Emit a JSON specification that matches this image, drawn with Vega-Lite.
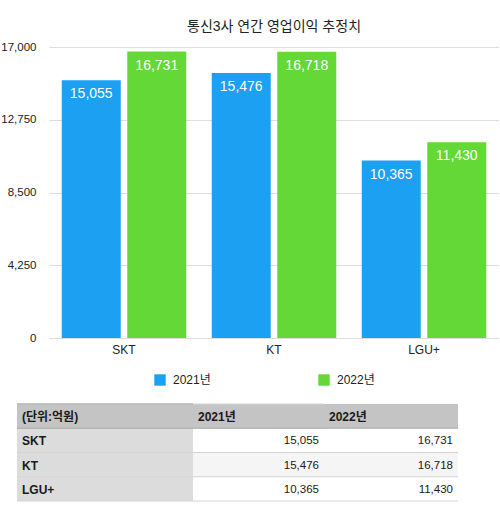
{
  "$schema": "https://vega.github.io/schema/vega-lite/v6.json",
  "padding": {"left": 0, "top": 20, "right": 0, "bottom": 0},
  "config": {
    "font": "Liberation Sans, Noto Sans CJK KR",
    "view": {"stroke": null},
    "concat": {"spacing": 17}
  },
  "datasets": {
    "profit": [
      {"company": "SKT", "year": "2021년", "value": 15055},
      {"company": "SKT", "year": "2022년", "value": 16731},
      {"company": "KT", "year": "2021년", "value": 15476},
      {"company": "KT", "year": "2022년", "value": 16718},
      {"company": "LGU+", "year": "2021년", "value": 10365},
      {"company": "LGU+", "year": "2022년", "value": 11430}
    ],
    "cells": [
      {"row": "header", "col": 0, "label": "(단위:억원)"},
      {"row": "header", "col": 1, "label": "2021년"},
      {"row": "header", "col": 2, "label": "2022년"},
      {"row": "SKT", "col": 0, "label": "SKT"},
      {"row": "SKT", "col": 1},
      {"row": "SKT", "col": 2},
      {"row": "KT", "col": 0, "label": "KT"},
      {"row": "KT", "col": 1},
      {"row": "KT", "col": 2},
      {"row": "LGU+", "col": 0, "label": "LGU+"},
      {"row": "LGU+", "col": 1},
      {"row": "LGU+", "col": 2}
    ]
  },
  "vconcat": [
    {
      "width": 450,
      "height": 291,
      "title": {"text": "통신3사 연간 영업이익 추정치", "fontSize": 14, "fontWeight": "normal", "color": "#222222", "anchor": "middle", "offset": 7},
      "data": {"name": "profit"},
      "encoding": {
        "x": {"field": "company", "type": "nominal", "sort": ["SKT", "KT", "LGU+"],
          "scale": {"paddingInner": 0.17, "paddingOuter": 0.085},
          "axis": {"title": null, "labelAngle": 0, "domain": false, "ticks": false, "labelPadding": 6, "labelFontSize": 12, "labelColor": "#222222"}},
        "xOffset": {"field": "year", "type": "nominal", "scale": {"paddingInner": 0.1}},
        "y": {"field": "value", "type": "quantitative", "scale": {"domain": [0, 17000]},
          "axis": {"title": null, "values": [0, 4250, 8500, 12750, 17000], "format": ",.0f", "domain": false, "ticks": false, "labelPadding": 13, "gridColor": "#dddddd", "labelFontSize": 11.5, "labelColor": "#222222"}}
      },
      "layer": [
        {
          "mark": {"type": "bar"},
          "encoding": {
            "color": {"field": "year", "type": "nominal", "scale": {"range": ["#1ba0f2", "#63d837"]},
              "legend": {"title": null, "orient": "none", "legendX": 105, "legendY": 327, "direction": "horizontal", "symbolType": "square", "symbolSize": 130, "symbolStrokeWidth": 0, "symbolOpacity": 1, "labelFontSize": 12, "labelColor": "#222222", "labelOffset": 7, "columnPadding": 107}}
          }
        },
        {
          "mark": {"type": "text", "baseline": "top", "dy": 7, "color": "white", "fontSize": 14},
          "encoding": {"text": {"field": "value", "type": "quantitative", "format": ","}}
        }
      ]
    },
    {
      "width": 409,
      "height": 97,
      "encoding": {
        "y": {"field": "row", "type": "nominal", "scale": {"domain": ["header", "SKT", "KT", "LGU+"], "paddingInner": 0, "paddingOuter": 0}, "axis": null}
      },
      "layer": [
        {
          "data": {"name": "cells"},
          "mark": {"type": "rect"},
          "encoding": {
            "x": {"field": "col", "type": "quantitative", "scale": {"domain": [0, 1, 2, 3], "range": [-32, 144, 275, 409]}, "axis": null},
            "x2": {"datum": 3},
            "fill": {"condition": [
              {"test": "datum.row === 'header'", "value": "#c4c4c4"},
              {"test": "datum.col === 0", "value": "#dcdcdc"},
              {"test": "datum.row === 'KT'", "value": "#f5f5f5"}
            ], "value": "#ffffff"}
          }
        },
        {
          "data": {"name": "cells"},
          "transform": [{"filter": "datum.col === 0 && datum.row !== 'header'"}],
          "mark": {"type": "rule", "strokeWidth": 1},
          "encoding": {
            "y": {"field": "row", "type": "nominal", "bandPosition": 0},
            "x": {"datum": 0, "type": "quantitative"},
            "x2": {"datum": 3},
            "stroke": {"condition": {"test": "datum.row === 'SKT'", "value": "#a6a6a6"}, "value": "#d4d4d4"}
          }
        },
        {
          "data": {"values": [{}]},
          "mark": {"type": "rule", "strokeWidth": 1, "stroke": "#d4d4d4"},
          "encoding": {
            "y": {"datum": "LGU+", "type": "nominal", "bandPosition": 1},
            "x": {"datum": 0, "type": "quantitative"},
            "x2": {"datum": 3}
          }
        },
        {
          "data": {"values": [{}]},
          "mark": {"type": "rule", "strokeWidth": 1.5, "stroke": "#9e9e9e"},
          "encoding": {"x": {"datum": 1, "type": "quantitative"}}
        },
        {
          "data": {"values": [{}]},
          "mark": {"type": "rule", "strokeWidth": 1, "stroke": "#d4d4d4"},
          "encoding": {"x": {"datum": 2, "type": "quantitative"}}
        },
        {
          "data": {"name": "cells"},
          "transform": [{"filter": "isValid(datum.label)"}],
          "mark": {"type": "text", "align": "left", "baseline": "middle", "dx": 5, "dy": 1, "fontSize": 12, "fontWeight": "bold", "color": "#1a1a1a"},
          "encoding": {
            "x": {"field": "col", "type": "quantitative"},
            "text": {"field": "label", "type": "nominal"}
          }
        },
        {
          "data": {"name": "profit"},
          "transform": [{"filter": "datum.year === '2021년'"}],
          "mark": {"type": "text", "align": "right", "baseline": "middle", "dx": -5, "dy": 1, "fontSize": 11.5, "color": "#1a1a1a"},
          "encoding": {
            "x": {"datum": 2, "type": "quantitative"},
            "y": {"field": "company", "type": "nominal"},
            "text": {"field": "value", "type": "quantitative", "format": ","}
          }
        },
        {
          "data": {"name": "profit"},
          "transform": [{"filter": "datum.year === '2022년'"}],
          "mark": {"type": "text", "align": "right", "baseline": "middle", "dx": -5, "dy": 1, "fontSize": 11.5, "color": "#1a1a1a"},
          "encoding": {
            "x": {"datum": 3, "type": "quantitative"},
            "y": {"field": "company", "type": "nominal"},
            "text": {"field": "value", "type": "quantitative", "format": ","}
          }
        }
      ]
    }
  ],
  "resolve": {"scale": {"x": "independent", "y": "independent", "color": "independent"}, "legend": {"color": "independent"}}
}
